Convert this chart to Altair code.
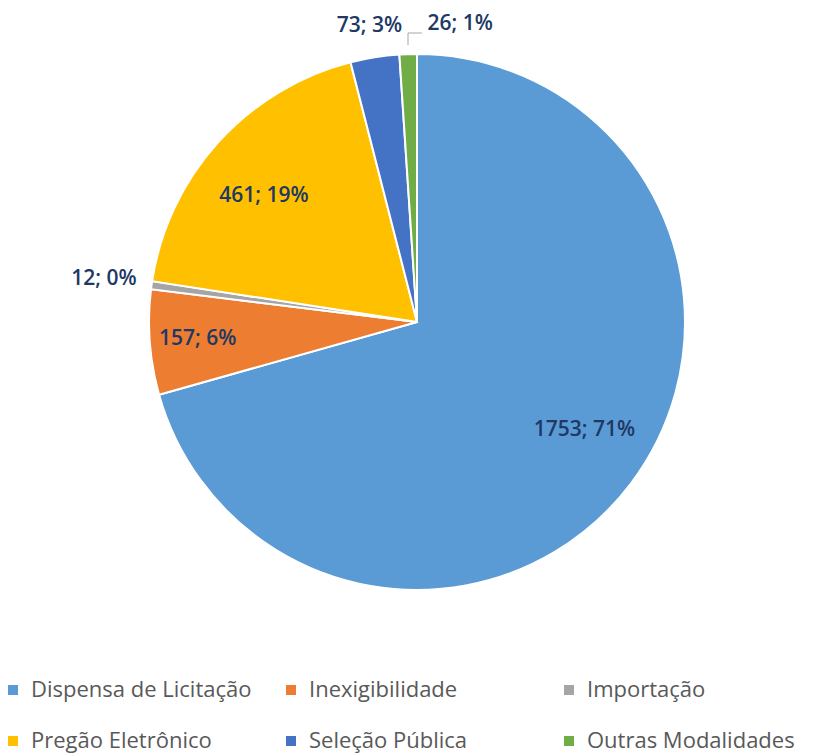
import altair as alt
import pandas as pd

categories = ["Dispensa de Licitação", "Inexigibilidade", "Importação",
              "Pregão Eletrônico", "Seleção Pública", "Outras Modalidades"]
values = [1753, 157, 12, 461, 73, 26]
colors = ["#5B9BD5", "#ED7D31", "#A5A5A5", "#FFC000", "#4472C4", "#70AD47"]

total = sum(values)
labels = [f"{v}; {round(100 * v / total)}%" for v in values]
df = pd.DataFrame({"cat": categories, "value": values, "idx": list(range(len(values))),
                   "label": labels})

CX, CY, R = 409, 314, 268
FONT = "Open Sans"

theta = alt.Theta("value:Q", stack=True)
order = alt.Order("idx:Q")

base = alt.Chart(df)

pie = base.mark_arc(outerRadius=R, stroke="white", strokeWidth=2).encode(
    theta=theta, order=order,
    x=alt.value(CX), y=alt.value(CY),
    color=alt.Color("cat:N", sort=categories,
                    scale=alt.Scale(domain=categories, range=colors),
                    legend=alt.Legend(orient="none", legendX=-6, legendY=671,
                                      direction="horizontal", columns=3,
                                      gridAlign="all", columnPadding=28,
                                      rowPadding=29, title=None,
                                      symbolType="square", symbolSize=100,
                                      symbolStrokeWidth=0, labelFont=FONT,
                                      labelFontSize=22, labelColor="#595959",
                                      labelOffset=7, labelLimit=400)),
)


def label_layer(cat, radius, dx=0, dy=0):
    return base.transform_calculate(
        lab=f"datum.cat == '{cat}' ? datum.label : ''"
    ).mark_text(radius=radius, dx=dx, dy=dy, font=FONT, fontSize=21,
                fontWeight=600, color="#203864").encode(
        theta=theta, order=order, x=alt.value(CX), y=alt.value(CY),
        text="lab:N")


layers = [
    pie,
    label_layer("Dispensa de Licitação", 200, 8, -13),
    label_layer("Inexigibilidade", 220),
    label_layer("Importação", 316),
    label_layer("Pregão Eletrônico", 200, -5, 8),
    label_layer("Seleção Pública", 302, 0, 2),
    label_layer("Outras Modalidades", 300, 53, 2),
]

leader_v = alt.Chart(df.head(1)).mark_rule(color="#A6A6A6", strokeWidth=1).encode(
    x=alt.value(CX - 9), y=alt.value(37), y2=alt.value(25))
leader_h = alt.Chart(df.head(1)).mark_rule(color="#A6A6A6", strokeWidth=1).encode(
    x=alt.value(CX - 9), x2=alt.value(CX + 5), y=alt.value(25))

chart = alt.layer(*layers, leader_v, leader_h).properties(
    width=798, height=748, autosize=alt.AutoSizeParams(type="none"), padding=0
).configure_view(stroke=None)

chart.save("out.html", embed_options={"renderer": "svg", "actions": False})
